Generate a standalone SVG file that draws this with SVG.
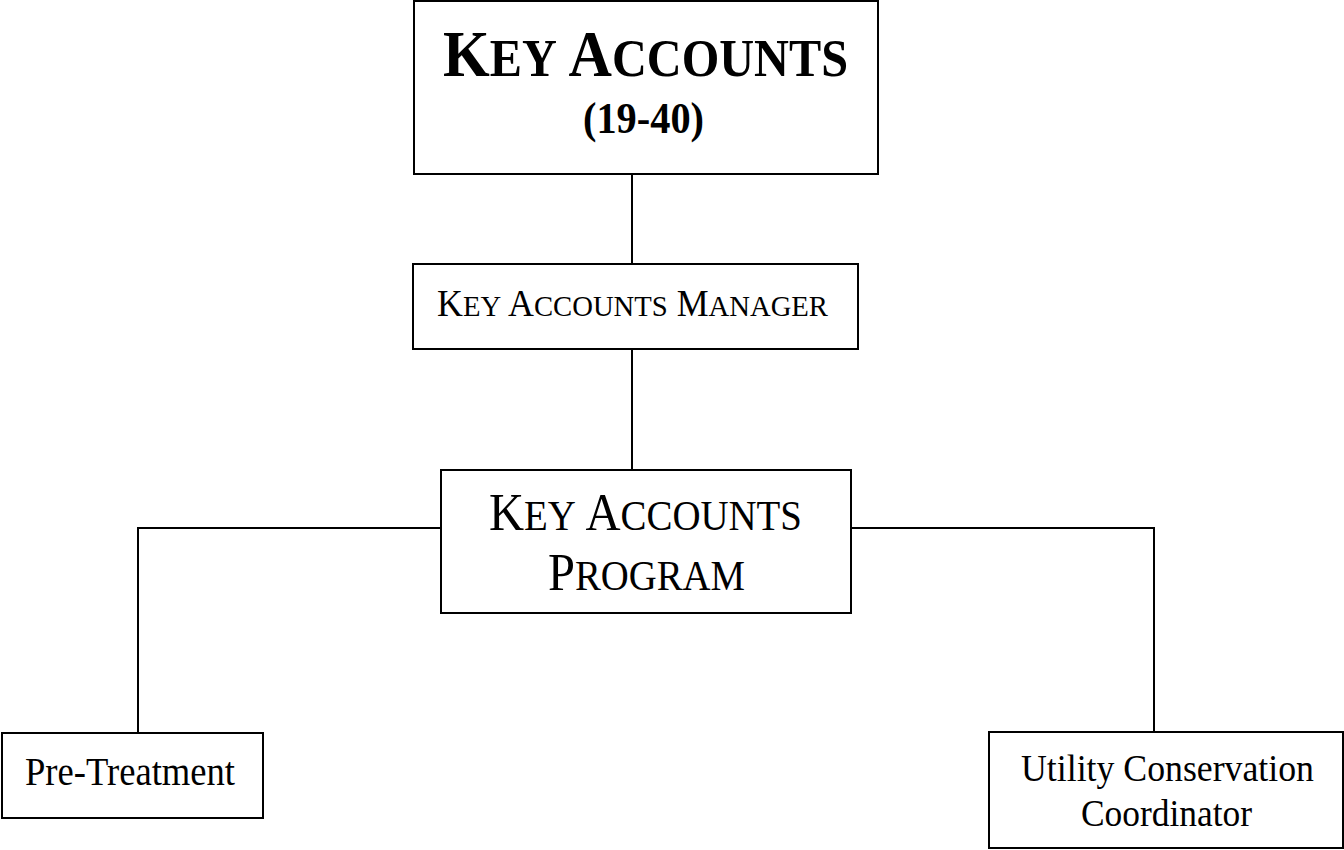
<svg xmlns="http://www.w3.org/2000/svg" width="1344" height="850" viewBox="0 0 1344 850">
<style>
.box{fill:#fff;stroke:#000;stroke-width:2}
.ln{fill:none;stroke:#000;stroke-width:2}
text{font-family:"Liberation Serif","Times New Roman",serif;fill:#000}
.b{font-weight:bold}
</style>
<rect width="1344" height="850" fill="#fff"/>
<g id="connectors">
<line class="ln" x1="632" y1="174" x2="632" y2="264"/>
<line class="ln" x1="632" y1="349" x2="632" y2="470"/>
<polyline class="ln" points="441,528 138,528 138,733"/>
<polyline class="ln" points="851,528 1154,528 1154,732"/>
</g>
<g id="key-accounts">
<rect class="box" x="414" y="1" width="464" height="173"/>
<text class="b" x="443" y="76" font-size="66" textLength="405" lengthAdjust="spacingAndGlyphs">K<tspan font-size="53">EY</tspan> A<tspan font-size="53">CCOUNTS</tspan></text>
<text class="b" x="583" y="133" font-size="44" textLength="121" lengthAdjust="spacingAndGlyphs">(19-40)</text>
</g>
<g id="manager">
<rect class="box" x="413" y="264" width="445" height="85"/>
<text x="437" y="316" font-size="37" textLength="391" lengthAdjust="spacingAndGlyphs">K<tspan font-size="29.6">EY</tspan> A<tspan font-size="29.6">CCOUNTS</tspan> M<tspan font-size="29.6">ANAGER</tspan></text>
</g>
<g id="program">
<rect class="box" x="441" y="470" width="410" height="143"/>
<text x="489" y="530" font-size="52" textLength="313" lengthAdjust="spacingAndGlyphs">K<tspan font-size="41.6">EY</tspan> A<tspan font-size="41.6">CCOUNTS</tspan></text>
<text x="548" y="590" font-size="52" textLength="197" lengthAdjust="spacingAndGlyphs">P<tspan font-size="41.6">ROGRAM</tspan></text>
</g>
<g id="pre-treatment">
<rect class="box" x="2" y="733" width="261" height="85"/>
<text x="25" y="785" font-size="39" textLength="210" lengthAdjust="spacingAndGlyphs">Pre-Treatment</text>
</g>
<g id="utility">
<rect class="box" x="989" y="732" width="354" height="116"/>
<text x="1021" y="781" font-size="38" textLength="293" lengthAdjust="spacingAndGlyphs">Utility Conservation</text>
<text x="1081" y="826" font-size="38" textLength="171" lengthAdjust="spacingAndGlyphs">Coordinator</text>
</g>
</svg>
